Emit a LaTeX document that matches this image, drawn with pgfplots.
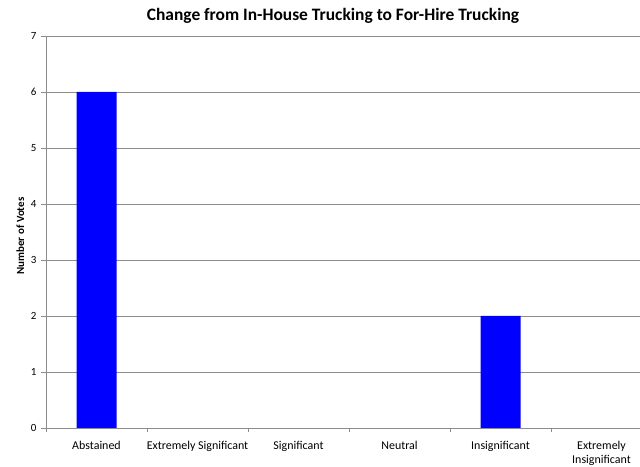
\documentclass[border=0pt]{standalone}
\usepackage{fontspec}
\setmainfont{Carlito}
\usepackage{pgfplots}
\pgfplotsset{compat=1.18}
\definecolor{gridgray}{RGB}{140,140,140}
\definecolor{barblue}{RGB}{0,0,255}
\begin{document}
\begin{tikzpicture}[x=1bp,y=1bp]
\begin{axis}[
  scale only axis,
  width=606bp, height=392bp,
  xmin=-0.5, xmax=5.5,
  ymin=0, ymax=7,
  ytick={0,1,...,7},
  xtick={0,1,2,3,4,5},
  xticklabels={Abstained,Extremely Significant,Significant,Neutral,Insignificant,{Extremely\\Insignificant}},
  x tick label style={font=\fontsize{12}{14}\selectfont, align=center, anchor=north, yshift=-5bp},
  y tick label style={font=\fontsize{11}{13}\selectfont, xshift=-1bp},
  /pgf/number format/assume math mode=true,
  major x tick style={draw=none},
  minor xtick={-0.5,0.5,...,5.5},
  minor x tick style={gridgray},
  minor tick length=4bp,
  major tick length=5bp,
  tick align=outside,
  tick style={gridgray},
  axis x line*=bottom,
  axis y line*=left,
  axis line style={gridgray,-},
  ymajorgrids,
  grid style={gridgray, line width=0.6pt},
  ylabel={\textbf{Number of Votes}},
  ylabel style={font=\fontsize{11}{13}\selectfont, at={(ticklabel cs:0.5)}, xshift=-4bp},
  title={\textbf{Change from In-House Trucking to For-Hire Trucking}},
  title style={font=\fontsize{17.5}{20}\selectfont, yshift=3bp, xshift=-16bp},
  ybar, bar width=40bp, bar shift=0pt,
  y filter/.expression={y==0 ? nan : y},
  unbounded coords=discard,
  clip=false,
]
\addplot[fill=barblue, draw=none] coordinates {(0,6) (1,0) (2,0) (3,0) (4,2) (5,0)};
\end{axis}
\pgfresetboundingbox
\useasboundingbox ([xshift=-46bp,yshift=-39bp]current axis.south west) rectangle ([xshift=-12bp,yshift=36bp]current axis.north east);
\end{tikzpicture}
\end{document}
